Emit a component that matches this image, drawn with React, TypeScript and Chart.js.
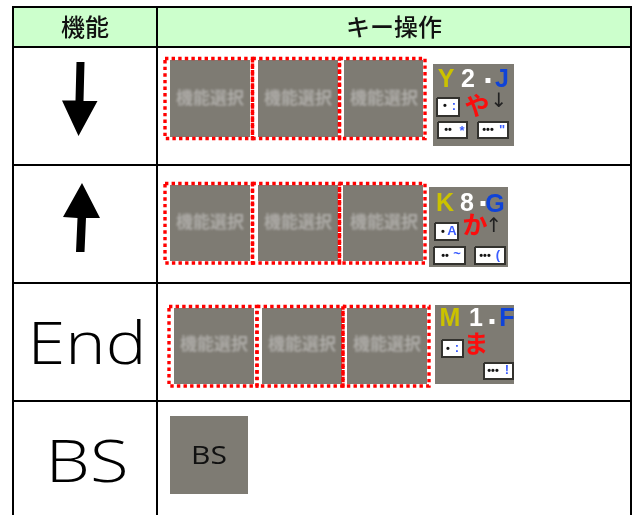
import React, { useEffect, useRef } from "react";
import { Chart, registerables } from "chart.js";

Chart.register(...registerables);

type Box = [number, number, number, number];
type Label = [string, number, number];

const headers: Label[] = [["機能", 85, 27], ["キー操作", 394, 27]];
const endLabel: Label[] = [["End", 87, 347]];
const bsLabel: Label[] = [["BS", 87, 465]];
const bsTileLabel: Label[] = [["BS", 209, 457]];
const tileCaption = "機能選択";
const tileCaptions: [number, number][] = [
  [210, 98], [298, 98], [384, 98],
  [210, 222], [298, 222], [384, 222],
  [214, 344], [302, 344], [387, 344],
];

const headerBox: Box = [14, 7, 630, 47];
const gridH: [number, number, number][] = [
  [12, 632, 7], [12, 632, 47], [12, 632, 165], [12, 632, 283], [12, 632, 401],
];
const gridV: [number, number, number][] = [
  [13, 6, 515], [157, 6, 515], [631, 6, 515],
];

const grayTiles: Box[] = [
  [170, 60, 250, 137], [258, 60, 338, 137], [344, 60, 423, 137],
  [170, 185, 250, 261], [258, 185, 338, 261], [343, 185, 423, 261],
  [174, 308, 254, 384], [262, 308, 342, 384], [347, 308, 427, 384],
  [170, 416, 248, 494],
];
const dottedFrames: Box[] = [
  [165, 58.5, 252.5, 138.5], [252.5, 58.5, 339.5, 138.5], [339.5, 58.5, 425, 138.5],
  [165, 183.5, 252.5, 263], [252.5, 183.5, 339.5, 263], [339.5, 183.5, 425, 263],
  [169, 306.5, 257, 386], [257, 306.5, 343, 386], [343, 306.5, 429, 386],
];
const keyTiles: Box[] = [[433, 64, 514, 146], [429, 187, 508, 267], [435, 305, 514, 384]];
const keyCaps: Box[] = [
  [437, 98, 459, 116], [438, 122, 467, 138], [478, 122, 508, 138],
  [435, 223, 458, 240], [434, 247, 465, 264], [475, 247, 505, 264],
  [442, 340, 463, 357], [484, 363, 513, 379],
];

const arrowDown: [number, number][] = [
  [76.5, 62], [84.5, 62], [83.5, 101], [97.5, 101], [78.5, 136], [62, 100.5], [75.5, 100.5],
];
const arrowUp: [number, number][] = [
  [82, 183], [100, 218], [86, 218], [84.5, 252], [76, 252], [77.5, 218], [63, 217],
];

const yellowLetters: Label[] = [["Y", 446, 80], ["K", 445, 204], ["M", 450, 319]];
const whiteLetters: Label[] = [["2", 468, 80], ["8", 467, 204], ["1", 476, 319]];
const whiteDots: Label[] = [[".", 488, 74], [".", 483, 197], [".", 492, 315]];
const blueLetters: Label[] = [["J", 502, 80], ["G", 495, 205], ["F", 507, 319]];
const redKana: Label[] = [["や", 477, 105], ["か", 475, 224], ["ま", 476, 343]];
const thinArrows: Label[] = [["↓", 499, 102], ["↑", 494, 227]];
const capDots: Label[] = [
  ["•", 445, 106], ["••", 448, 130], ["•••", 488, 130],
  ["•", 443, 232], ["••", 445, 256], ["•••", 485, 256],
  ["•", 448, 349], ["•••", 493, 371],
];
const capSymbols: Label[] = [
  [":", 454, 106], ["*", 462, 131], ["\"", 502, 130],
  ["A", 452, 231], ["~", 457, 254], ["(", 498, 255],
  [":", 457, 348], ["!", 507, 370],
];

const rect = ([x0, y0, x1, y1]: Box) => [
  { x: x0, y: y0 }, { x: x1, y: y0 }, { x: x1, y: y1 }, { x: x0, y: y1 }, { x: x0, y: y0 },
];
const poly = (p: [number, number][]) => [...p, p[0]].map(([x, y]) => ({ x, y }));

const base = { type: "line" as const, showLine: true, pointRadius: 0, tension: 0, clip: false };
const filled = (data: any[], color: string, stroke = "transparent", width = 0) => ({
  ...base, data, fill: "shape" as const, backgroundColor: color, borderColor: stroke, borderWidth: width,
});
const stroked = (data: any[], color: string, width: number, dash: number[] = []) => ({
  ...base, data, fill: false, borderColor: color, borderWidth: width, borderDash: dash,
});

const textPlugin = {
  id: "tableText",
  afterDraw(chart: any) {
    const { ctx, scales } = chart;
    const px = (v: number) => scales.x.getPixelForValue(v);
    const py = (v: number) => scales.y.getPixelForValue(v);
    const put = (items: Label[], font: string, color: string, blur = 0, stretch = 1) => {
      ctx.save();
      ctx.font = font;
      ctx.fillStyle = color;
      ctx.textAlign = "center";
      ctx.textBaseline = "middle";
      if (blur) ctx.filter = `blur(${blur}px)`;
      items.forEach(([t, x, y]) => {
        ctx.save();
        ctx.translate(px(x), py(y));
        ctx.scale(stretch, 1);
        ctx.fillText(t, 0, 0);
        ctx.restore();
      });
      ctx.restore();
    };
    const cjk = '"Noto Sans CJK JP"';
    put(headers, `500 24px ${cjk}`, "#111111");
    put(endLabel, '300 58px "Open Sans"', "#000000", 0, 1.18);
    put(bsLabel, '300 58px "Open Sans"', "#000000", 0, 1.22);
    put(bsTileLabel, '400 25px "Open Sans"', "#111111", 0, 1.2);
    put(tileCaptions.map(([x, y]) => [tileCaption, x, y] as Label), `700 17px ${cjk}`, "#aeaca8", 0.8);
    put(yellowLetters, '700 25px "Liberation Sans"', "#cbc200", 0.5);
    put(whiteLetters, '700 25px "Liberation Sans"', "#ffffff", 0.5);
    put(whiteDots, '700 34px "Liberation Sans"', "#ffffff", 0.4);
    put(blueLetters, '700 25px "Liberation Sans"', "#0f43d8", 0.5);
    put(redKana, `700 25px ${cjk}`, "#fb0d0d", 0.4);
    put(thinArrows, '400 20px "DejaVu Sans"', "#222222", 0.4);
    put(capDots, '700 11px "Liberation Sans"', "#111111", 0.3);
    put(capSymbols, '700 13px "Liberation Sans"', "#3a5cff", 0.4);
  },
};

export default function App() {
  const ref = useRef<HTMLCanvasElement>(null);
  useEffect(() => {
    if (!ref.current) return;
    const layers = [
      filled(rect(headerBox), "#ccffcc"),
      ...grayTiles.map((b) => filled(rect(b), "#7e7b73")),
      ...keyTiles.map((b) => filled(rect(b), "#7e7b73")),
      ...dottedFrames.map((b) => stroked(rect(b), "#ff0000", 3.4, [3.4, 3.2])),
      ...keyCaps.map((b) => filled(rect(b), "#ffffff", "#33322e", 2)),
      filled(poly(arrowDown), "#000000"),
      filled(poly(arrowUp), "#000000"),
      ...gridH.map(([a, b, y]) => stroked([{ x: a, y }, { x: b, y }], "#000000", 2)),
      ...gridV.map(([x, a, b]) => stroked([{ x, y: a }, { x, y: b }], "#000000", 2)),
    ].map((d, i) => ({ ...d, order: 1000 - i }));
    const chart = new Chart(ref.current, {
      type: "scatter",
      data: { datasets: layers as any },
      options: {
        animation: false,
        responsive: false,
        layout: { padding: 0 },
        plugins: { legend: { display: false }, tooltip: { enabled: false } },
        scales: {
          x: { type: "linear", min: 0, max: 638, display: false },
          y: { type: "linear", min: 0, max: 515, reverse: true, display: false },
        },
      },
      plugins: [textPlugin],
    });
    return () => chart.destroy();
  }, []);
  return (
    <canvas
      ref={ref}
      width={638}
      height={515}
      style={{ position: "absolute", left: 0, top: 0, width: 638, height: 515, background: "#fff" }}
    />
  );
}
